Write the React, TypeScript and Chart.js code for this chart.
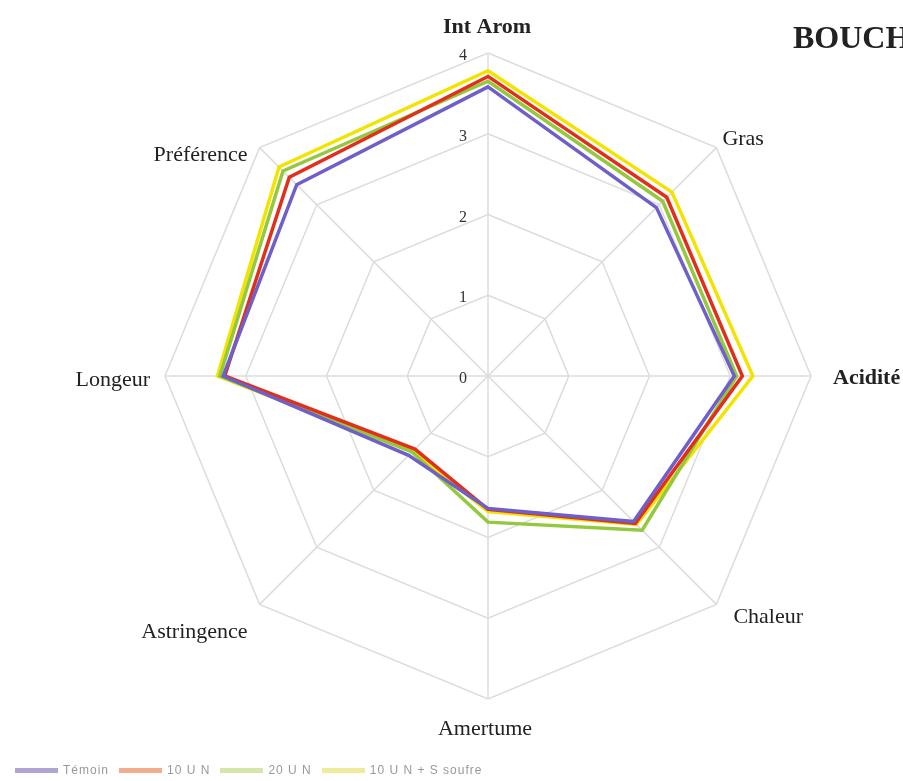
import React, { useEffect, useRef } from "react";
import { Chart, registerables } from "chart.js";

Chart.register(...registerables);

const categories = ["Int Arom", "Gras", "Acidité", "Chaleur", "Amertume", "Astringence", "Longeur", "Préférence"];
const boldLabels = ["Int Arom", "Acidité"];
const temoin = [3.58, 2.95, 3.05, 2.55, 1.64, 1.39, 3.28, 3.35];
const un10 = [3.71, 3.13, 3.15, 2.58, 1.65, 1.28, 3.26, 3.48];
const un20 = [3.65, 3.06, 3.08, 2.70, 1.81, 1.33, 3.32, 3.59];
const un10s = [3.78, 3.22, 3.28, 2.60, 1.68, 1.32, 3.35, 3.66];
const seriesNames = ["Témoin", "10 U N", "20 U N", "10 U N + S soufre"];
const tickValues = [0, 1, 2, 3, 4];

const lineColors = ["#6f5fc8", "#e0301c", "#94c83e", "#f2e400"];
const legendColors = ["#b0a4d0", "#f0ae8e", "#d4e7a8", "#efeb9c"];

const serif = "'Liberation Serif', 'Times New Roman', serif";

// label offsets from each outer vertex: [dx, dy, align]
const labelOffsets: [number, number, CanvasTextAlign][] = [
  [-1, -26, "center"],
  [6, -8, "left"],
  [22, 2, "left"],
  [17, 13, "left"],
  [-3, 30, "center"],
  [-12, 28, "right"],
  [-15, 4, "right"],
  [-12, 8, "right"],
];

const labelPlugin = {
  id: "customLabels",
  afterDraw(chart: any) {
    const scale = chart.scales.r;
    const ctx = chart.ctx;
    ctx.save();
    ctx.font = `16px ${serif}`;
    ctx.fillStyle = "#333";
    ctx.textAlign = "right";
    ctx.textBaseline = "middle";
    tickValues.forEach((v) => {
      const d = scale.getDistanceFromCenterForValue(v);
      ctx.fillText(String(v), scale.xCenter - 21, scale.yCenter - d + 3);
    });
    categories.forEach((c, i) => {
      const p = scale.getPointPosition(i, scale.drawingArea);
      const [dx, dy, align] = labelOffsets[i];
      ctx.font = `${boldLabels.includes(c) ? "bold " : ""}22px ${serif}`;
      ctx.fillStyle = "#222";
      ctx.textBaseline = "middle";
      ctx.textAlign = align;
      ctx.fillText(c, p.x + dx, p.y + dy);
    });
    ctx.restore();
  },
};

export default function App() {
  const ref = useRef<HTMLCanvasElement>(null);
  useEffect(() => {
    if (!ref.current) return;
    const data = [temoin, un10, un20, un10s];
    const chart = new Chart(ref.current, {
      type: "radar",
      data: {
        labels: categories,
        datasets: data.map((d, i) => ({
          label: seriesNames[i],
          data: d,
          borderColor: lineColors[i],
          backgroundColor: "transparent",
          borderWidth: 3.5,
          pointRadius: 0,
          fill: false,
          tension: 0,
        })),
      },
      options: {
        responsive: false,
        animation: false,
        layout: { padding: { left: 165, right: 92, top: 53, bottom: 82 } },
        plugins: { legend: { display: false }, tooltip: { enabled: false }, title: { display: false } },
        scales: {
          r: {
            min: 0,
            max: 4,
            ticks: { stepSize: 1, display: false },
            grid: { color: "#dcdcdc", lineWidth: 1.5 },
            angleLines: { color: "#dcdcdc", lineWidth: 1.5 },
            pointLabels: { display: false },
          },
        },
      },
      plugins: [labelPlugin],
    });
    return () => chart.destroy();
  }, []);

  return (
    <div style={{ position: "absolute", left: 0, top: 0, width: 903, height: 781, background: "#fff", overflow: "hidden" }}>
      <canvas ref={ref} width={903} height={781} style={{ position: "absolute", left: 0, top: 0 }} />
      <div style={{ position: "absolute", left: 793, top: 19, fontFamily: serif, fontWeight: "bold", fontSize: 32, lineHeight: "37px", color: "#222", whiteSpace: "nowrap" }}>
        BOUCHE
      </div>
      <div style={{ position: "absolute", left: 15, top: 763, display: "flex", alignItems: "center", fontFamily: "'Liberation Sans', Arial, sans-serif", fontSize: 12, letterSpacing: 1, color: "#999", whiteSpace: "nowrap" }}>
        {seriesNames.map((n, i) => (
          <div key={n} style={{ display: "flex", alignItems: "center", marginRight: 10 }}>
            <span style={{ display: "inline-block", width: 43, height: 5, background: legendColors[i], marginRight: 5 }} />
            <span>{n}</span>
          </div>
        ))}
      </div>
    </div>
  );
}
